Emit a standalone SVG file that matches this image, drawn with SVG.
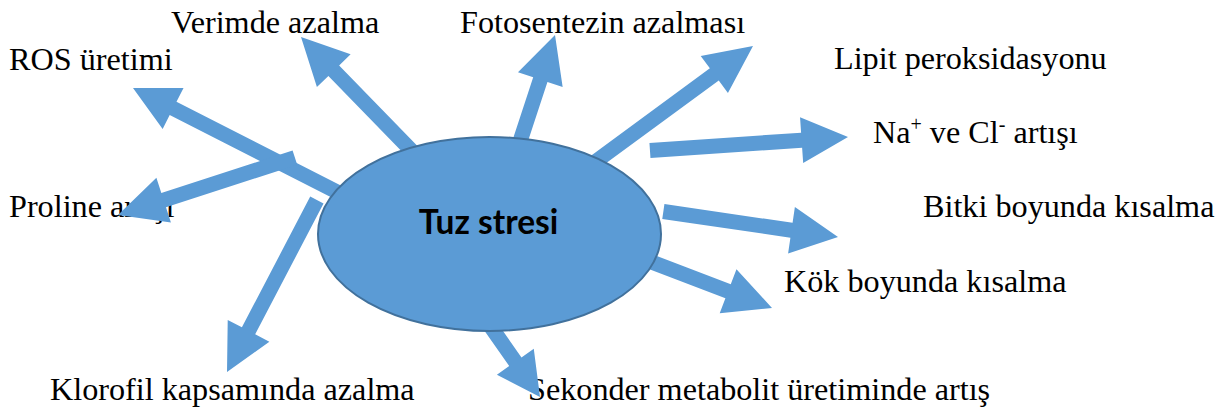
<svg xmlns="http://www.w3.org/2000/svg" width="1223" height="410" viewBox="0 0 1223 410">
<style>
.lbl{font-family:"Liberation Serif","Times New Roman",serif;font-size:32.2px;fill:#000}
.sup{font-size:20px}
.arr{fill:#5b9bd5;stroke:none}
.hub{fill:#5b9bd5;stroke:#41719c;stroke-width:2}
.hubt{font-family:Lato,"Open Sans",sans-serif;font-weight:bold;font-size:33.5px;fill:#000}
</style>
<rect width="1223" height="410" fill="#fff"/>
<g id="n-verim"><text class="lbl" x="171" y="33">Verimde azalma</text></g>
<g id="n-ros"><text class="lbl" x="9" y="70">ROS üretimi</text></g>
<g id="n-proline"><text class="lbl" x="9" y="217">Proline artışı</text></g>
<g id="n-foto"><text class="lbl" x="460" y="33">Fotosentezin azalması</text></g>
<g id="n-lipit"><text class="lbl" x="834" y="69">Lipit peroksidasyonu</text></g>
<g id="n-nacl"><text class="lbl" x="873" y="143">Na<tspan class="sup" dy="-12">+</tspan><tspan dy="12"> ve Cl</tspan><tspan class="sup" dy="-12">-</tspan><tspan dy="12"> artışı</tspan></text></g>
<g id="n-bitki"><text class="lbl" x="923" y="217">Bitki boyunda kısalma</text></g>
<g id="n-kok"><text class="lbl" x="784" y="292">Kök boyunda kısalma</text></g>
<g id="n-klorofil"><text class="lbl" x="50" y="400">Klorofil kapsamında azalma</text></g>
<g id="n-sekonder"><text class="lbl" x="528" y="400">Sekonder metabolit üretiminde artış</text></g>
<g id="connectors">
<polygon class="arr" transform="translate(301,37) rotate(-134.2)" points="-166,-7.5 -47,-7.5 -47,-23.5 0,0 -47,23.5 -47,7.5 -166,7.5"/>
<polygon class="arr" transform="translate(133,88) rotate(-153)" points="-230,-7.5 -45,-7.5 -45,-23 0,0 -45,23 -45,7.5 -230,7.5"/>
<polygon class="arr" transform="translate(118,215) rotate(162)" points="-186,-7.5 -48,-7.5 -48,-23.5 0,0 -48,23.5 -48,7.5 -186,7.5"/>
<polygon class="arr" transform="translate(227,372) rotate(117.6)" points="-194,-7.5 -46.5,-7.5 -46.5,-23.5 0,0 -46.5,23.5 -46.5,7.5 -194,7.5"/>
<polygon class="arr" transform="translate(555,35) rotate(-71.8)" points="-118,-7.5 -47,-7.5 -47,-23.5 0,0 -47,23.5 -47,7.5 -118,7.5"/>
<polygon class="arr" transform="translate(753,46) rotate(-36.3)" points="-196,-7.5 -48,-7.5 -48,-23 0,0 -48,23 -48,7.5 -196,7.5"/>
<polygon class="arr" transform="translate(848,137) rotate(-3.9)" points="-198.5,-7.5 -46.5,-7.5 -46.5,-23 0,0 -46.5,23 -46.5,7.5 -198.5,7.5"/>
<polygon class="arr" transform="translate(838,237) rotate(8.3)" points="-176.5,-7.5 -47,-7.5 -47,-23.5 0,0 -47,23.5 -47,7.5 -176.5,7.5"/>
<polygon class="arr" transform="translate(772,308) rotate(20.9)" points="-134,-7.5 -47,-7.5 -47,-23.5 0,0 -47,23.5 -47,7.5 -134,7.5"/>
<polygon class="arr" transform="translate(540,397) rotate(55)" points="-92,-7.5 -43,-7.5 -43,-22.5 0,0 -43,22.5 -43,7.5 -92,7.5"/>
</g>
<g id="n-tuz">
<ellipse class="hub" cx="489.5" cy="234" rx="171.5" ry="97"/>
<text class="hubt" x="488.5" y="234" text-anchor="middle">Tuz stresi</text>
</g>
</svg>
